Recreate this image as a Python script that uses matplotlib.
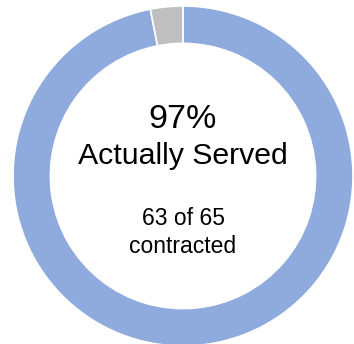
import matplotlib
matplotlib.use("Agg")
import matplotlib.pyplot as plt

labels = ["Actually Served", "Not Served"]
values = [63, 2]
colors = ["#8FAADC", "#BFBFBF"]
total = sum(values)
pct = round(values[0] / total * 100)

W, H = 354, 344
fig = plt.figure(figsize=(W / 100, H / 100), dpi=100)
cx, cy, r = 183, 176, 170
ax = fig.add_axes([(cx - r) / W, (H - cy - r) / H, 2 * r / W, 2 * r / H])
ax.pie(values, colors=colors, startangle=90, counterclock=False, radius=1.0,
       wedgeprops=dict(width=0.22, edgecolor="white", linewidth=1.2))
ax.set_xlim(-1, 1)
ax.set_ylim(-1, 1)
ax.set_aspect("equal")
ax.axis("off")

font = "Liberation Sans"
ax.text(0, 0.33, f"{pct}%", ha="center", va="center", fontsize=24.5, family=font)
ax.text(0, 0.12, labels[0], ha="center", va="center", fontsize=21.8, family=font)
ax.text(0, -0.25, f"{values[0]} of {total}", ha="center", va="center", fontsize=16.5, family=font)
ax.text(0, -0.415, "contracted", ha="center", va="center", fontsize=16.5, family=font)

fig.savefig("out.png", dpi=100)
